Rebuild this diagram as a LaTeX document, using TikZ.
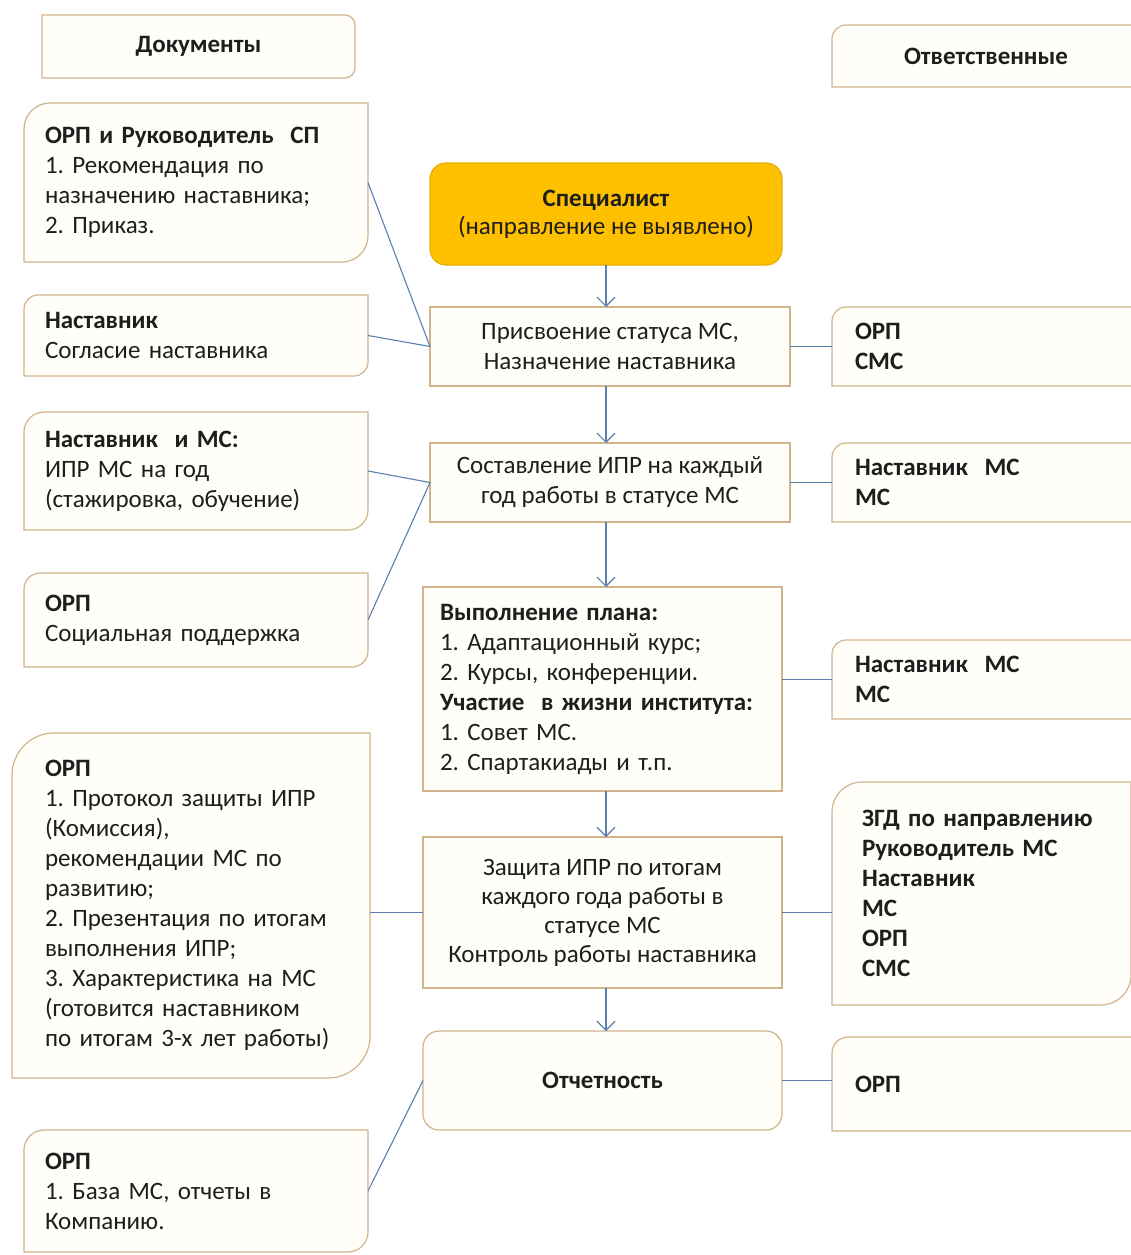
\documentclass[tikz,border=0pt]{standalone}
\usepackage{fontspec}
\setmainfont{Carlito}
\usetikzlibrary{arrows.meta,backgrounds,calc}
\definecolor{bord}{HTML}{D2B48C}
\definecolor{fillc}{HTML}{FFFEF8}
\definecolor{linec}{HTML}{5A80AC}
\definecolor{orangec}{HTML}{FFC000}
\definecolor{orangeb}{HTML}{E8AE00}
\definecolor{txt}{HTML}{1E1E1E}
\frenchspacing
% corner helpers: cubic approximation of a quarter circle (k = 0.448)
\newcommand\tlcorner[2]{([yshift=-#2]#1.north west) .. controls ([yshift={-0.448*#2}]#1.north west) and ([xshift={0.448*#2}]#1.north west) .. ([xshift=#2]#1.north west)}
\newcommand\brcorner[2]{([yshift=#2]#1.south east) .. controls ([yshift={0.448*#2}]#1.south east) and ([xshift={-0.448*#2}]#1.south east) .. ([xshift=-#2]#1.south east)}
\newcommand\trcorner[2]{([xshift=-#2]#1.north east) .. controls ([xshift={-0.448*#2}]#1.north east) and ([yshift={-0.448*#2}]#1.north east) .. ([yshift=-#2]#1.north east)}
\newcommand\diagshape[2]{\draw[boxl] (#1.south west) -- \tlcorner{#1}{#2} -- (#1.north east) -- \brcorner{#1}{#2} -- cycle;}
\newcommand\tlshape[2]{\draw[boxl] (#1.south west) -- \tlcorner{#1}{#2} -- (#1.north east) -- (#1.south east) -- cycle;}
\newcommand\rshape[2]{\draw[boxl] (#1.south west) -- (#1.north west) -- \trcorner{#1}{#2} -- \brcorner{#1}{#2} -- cycle;}
\begin{document}
\begin{tikzpicture}[x=1pt,y=-1pt,
  every node/.style={font=\fontsize{25}{30}\selectfont, text=txt, inner sep=0pt, outer sep=0pt},
  boxl/.style={draw=bord, fill=fillc, line width=1.2pt},
  tl/.style={align=left},
  mid/.style={draw=bord, fill=fillc, line width=1.2pt, align=center},
  conn/.style={draw=linec, line width=1.1pt},
  arr/.style={conn, -{Straight Barb[length=9pt,width=18pt]}}]
\useasboundingbox (0,0) rectangle (1131,1255);

% headers
\node[align=center, minimum width=313pt, minimum height=63pt] (docs) at (198.5,46.5) {\textbf{Документы}};
\node[align=center, minimum width=308pt, minimum height=62pt] (resp) at (986,56) {\textbf{Ответственные}};

% left column
\node[tl, text width=302pt, minimum width=344pt, minimum height=159pt] (L1) at (196,182.5)
  {\textbf{ОРП и Руководитель\ \ СП}\\1. Рекомендация по\\назначению наставника;\\2. Приказ.};
\node[tl, text width=302pt, minimum width=344pt, minimum height=81pt] (L2) at (196,335.5)
  {\textbf{Наставник}\\Согласие наставника};
\node[tl, text width=302pt, minimum width=344pt, minimum height=118pt] (L3) at (196,471)
  {\textbf{Наставник\ \ и МС:}\\ИПР МС на год\\(стажировка, обучение)};
\node[tl, text width=302pt, minimum width=344pt, minimum height=94pt] (L4) at (196,620)
  {\textbf{ОРП}\\Социальная поддержка};
\node[tl, text width=292pt, minimum width=358pt, minimum height=345pt] (L5) at (191,905.5)
  {\textbf{ОРП}\\1. Протокол защиты ИПР\\(Комиссия),\\рекомендации МС по\\развитию;\\2. Презентация по итогам\\выполнения ИПР;\\3. Характеристика на МС\\(готовится наставником\\по итогам 3-х лет работы)};
\node[tl, text width=302pt, minimum width=344pt, minimum height=122pt] (L6) at (196,1191)
  {\textbf{ОРП}\\1. База МС, отчеты в\\Компанию.};

% middle column
\node[align=center, draw=orangeb, fill=orangec, line width=1.2pt, rounded corners=16pt,
  minimum width=352pt, minimum height=102pt, font=\fontsize{25}{28}\selectfont] (spec) at (606,214)
  {\textbf{Специалист}\\(направление не выявлено)};
\node[mid, minimum width=360pt, minimum height=79pt] (M1) at (610,346.5)
  {Присвоение статуса МС,\\Назначение наставника};
\node[mid, minimum width=360pt, minimum height=79pt] (M2) at (610,482.5)
  {Составление ИПР на каждый\\год работы в статусе МС};
\node[draw=bord, fill=fillc, line width=1.2pt, align=left, text width=325pt,
  minimum width=359pt, minimum height=204pt] (M3) at (602.5,689)
  {\textbf{Выполнение плана:}\\1. Адаптационный курс;\\2. Курсы, конференции.\\\textbf{Участие\ \ в жизни института:}\\1. Совет МС.\\2. Спартакиады и т.п.};
\node[mid, minimum width=359pt, minimum height=151pt, font=\fontsize{25}{29}\selectfont] (M4) at (602.5,912.5)
  {Защита ИПР по итогам\\каждого года работы в\\статусе МС\\Контроль работы наставника};
\node[mid, rounded corners=16pt, minimum width=359pt, minimum height=99pt] (M5) at (602.5,1080.5)
  {\textbf{Отчетность}};

% right column
\node[tl, text width=262pt, minimum width=308pt, minimum height=79pt] (R1) at (986,346.5)
  {\textbf{ОРП}\\\textbf{СМС}};
\node[tl, text width=262pt, minimum width=308pt, minimum height=79pt] (R2) at (986,482.5)
  {\textbf{Наставник\ \ МС}\\\textbf{МС}};
\node[tl, text width=262pt, minimum width=308pt, minimum height=79pt] (R3) at (986,679.5)
  {\textbf{Наставник\ \ МС}\\\textbf{МС}};
\node[tl, text width=239pt, minimum width=299pt, minimum height=223pt] (R4) at (981.5,893.5)
  {\textbf{ЗГД по направлению}\\\textbf{Руководитель МС}\\\textbf{Наставник}\\\textbf{МС}\\\textbf{ОРП}\\\textbf{СМС}};
\node[tl, text width=262pt, minimum width=308pt, minimum height=94pt] (R5) at (986,1084)
  {\textbf{ОРП}};

\begin{pgfonlayer}{background}
  \fill[white] (0,0) rectangle (1131,1255);
  \rshape{docs}{10pt}
  \tlshape{resp}{14pt}
  \diagshape{L1}{26pt}
  \diagshape{L2}{14pt}
  \diagshape{L3}{20pt}
  \diagshape{L4}{16pt}
  \diagshape{L5}{42pt}
  \diagshape{L6}{20pt}
  \tlshape{R1}{14pt}
  \tlshape{R2}{14pt}
  \tlshape{R3}{14pt}
  \diagshape{R4}{30pt}
  \tlshape{R5}{16pt}
\end{pgfonlayer}

% vertical arrows
\draw[arr] (spec.south) -- (spec.south |- M1.north);
\draw[arr] (M1.south -| spec.south) -- (M2.north -| spec.south);
\draw[arr] (M2.south -| spec.south) -- (M3.north -| spec.south);
\draw[arr] (M3.south -| spec.south) -- (M4.north -| spec.south);
\draw[arr] (M4.south -| spec.south) -- (M5.north -| spec.south);

% left connectors
\draw[conn] (L1.east) -- (M1.west);
\draw[conn] (L2.east) -- (M1.west);
\draw[conn] (L3.east) -- (M2.west);
\draw[conn] (L4.east) -- (M2.west);
\draw[conn] (M4.west -| L5.east) -- (M4.west);
\draw[conn] (L6.east) -- (M5.west);

% right connectors
\draw[conn] (M1.east) -- (M1.east -| R1.west);
\draw[conn] (M2.east) -- (M2.east -| R2.west);
\draw[conn] (R3.west -| M3.east) -- (R3.west);
\draw[conn] (M4.east) -- (M4.east -| R4.west);
\draw[conn] (M5.east) -- (M5.east -| R5.west);
\end{tikzpicture}
\end{document}
